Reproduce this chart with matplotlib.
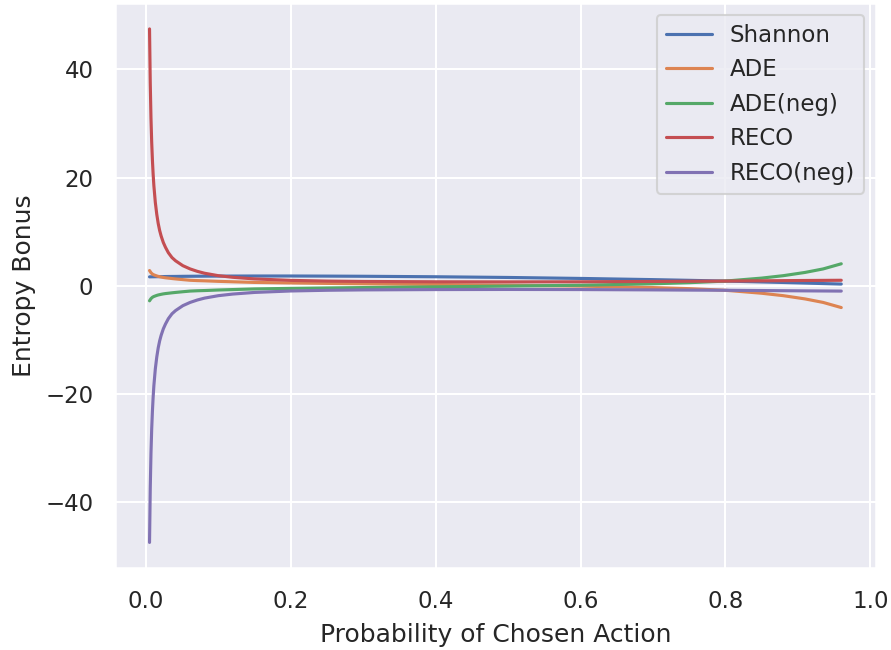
import matplotlib
matplotlib.use("Agg")
import matplotlib.pyplot as plt
import seaborn as sns

sns.set_theme(context="talk", style="darkgrid")

# probability of the chosen action (sample points)
p = [0.005, 0.006, 0.007, 0.008, 0.009, 0.010, 0.011, 0.013, 0.015, 0.017,
     0.019, 0.021, 0.024, 0.027, 0.031, 0.036, 0.041, 0.051, 0.061, 0.071,
     0.081, 0.100, 0.120, 0.150, 0.200, 0.250, 0.300, 0.400, 0.500, 0.600,
     0.700, 0.750, 0.800, 0.850, 0.880, 0.910, 0.935, 0.960]

shannon = [1.63, 1.64, 1.64, 1.645, 1.647, 1.648, 1.65, 1.655, 1.66, 1.665,
           1.67, 1.675, 1.68, 1.69, 1.70, 1.705, 1.71, 1.73, 1.74, 1.75,
           1.76, 1.77, 1.78, 1.79, 1.79, 1.77, 1.74, 1.65, 1.52, 1.34,
           1.12, 0.99, 0.85, 0.69, 0.59, 0.48, 0.39, 0.30]

ade = [2.80, 2.60, 2.40, 2.27, 2.15, 2.07, 2.00, 1.90, 1.80, 1.72,
       1.66, 1.60, 1.52, 1.46, 1.40, 1.32, 1.25, 1.12, 1.00, 0.94,
       0.90, 0.80, 0.72, 0.60, 0.50, 0.42, 0.35, 0.22, 0.08, -0.08,
       -0.35, -0.55, -0.85, -1.40, -1.85, -2.45, -3.10, -4.05]

ade_neg = [-2.80, -2.60, -2.40, -2.27, -2.15, -2.07, -2.00, -1.90, -1.80, -1.72,
           -1.66, -1.60, -1.52, -1.46, -1.40, -1.32, -1.25, -1.12, -1.00, -0.94,
           -0.90, -0.80, -0.72, -0.60, -0.50, -0.42, -0.35, -0.22, -0.08, 0.08,
           0.35, 0.55, 0.85, 1.40, 1.85, 2.45, 3.10, 4.05]

reco = [47.5, 37.5, 31.0, 26.5, 23.2, 20.6, 18.5, 15.4, 13.2, 11.5,
        10.2, 9.2, 8.0, 7.1, 6.1, 5.2, 4.6, 3.7, 3.1, 2.65,
        2.3, 1.85, 1.55, 1.25, 0.98, 0.85, 0.78, 0.72, 0.70, 0.72,
        0.78, 0.82, 0.85, 0.90, 0.93, 0.96, 0.98, 1.00]

reco_neg = [-47.5, -37.5, -31.0, -26.5, -23.2, -20.6, -18.5, -15.4, -13.2, -11.5,
            -10.2, -9.2, -8.0, -7.1, -6.1, -5.2, -4.6, -3.7, -3.1, -2.65,
            -2.3, -1.85, -1.55, -1.25, -0.98, -0.85, -0.78, -0.72, -0.70, -0.72,
            -0.78, -0.82, -0.85, -0.90, -0.93, -0.96, -0.98, -1.00]

fig, ax = plt.subplots(figsize=(8.91, 6.5), dpi=100)
fig.subplots_adjust(left=0.129, right=0.983, top=0.995, bottom=0.126)

ax.plot(p, shannon, label="Shannon")
ax.plot(p, ade, label="ADE")
ax.plot(p, ade_neg, label="ADE(neg)")
ax.plot(p, reco, label="RECO")
ax.plot(p, reco_neg, label="RECO(neg)")

ax.tick_params(pad=6.5)
ax.set_xlabel("Probability of Chosen Action", labelpad=7.5)
ax.set_ylabel("Entropy Bonus", labelpad=7)
ax.legend(loc="upper right")

fig.savefig("out.png")
